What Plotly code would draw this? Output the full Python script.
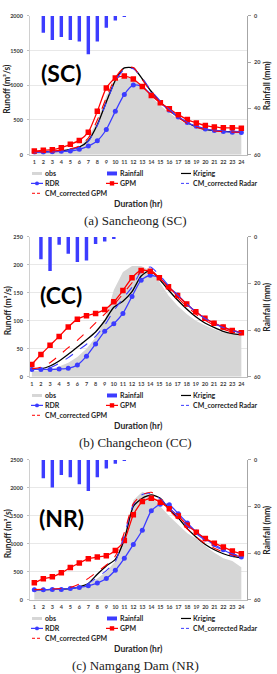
import plotly.graph_objects as go

hours = list(range(1, 25))

# ---------------- (a) Sancheong (SC) ----------------
sc_obs = [30, 35, 40, 50, 70, 110, 250, 480, 850, 1050, 1130, 1110, 970, 830, 710, 600, 505, 438, 390, 352, 333, 319, 314, 305]
sc_rain = [0, 7.3, 10.4, 9.1, 10.4, 11.1, 16.6, 11.1, 5.1, 2.0, 0.3, 0, 0, 0, 0, 0, 0, 0, 0, 0, 0, 0, 0, 0]
sc_krig = [40, 42, 45, 55, 75, 110, 200, 430, 760, 1070, 1250, 1250, 1090, 910, 760, 640, 540, 460, 400, 365, 345, 335, 330, 328]
sc_rdr = [38, 38, 43, 48, 52, 76, 124, 200, 362, 624, 867, 1005, 981, 862, 748, 638, 543, 462, 410, 371, 348, 333, 324, 319]
sc_gpm = [52, 62, 71, 100, 148, 205, 324, 624, 962, 1105, 1133, 1090, 981, 852, 748, 662, 576, 505, 457, 419, 400, 386, 386, 381]
sc_cmr = [40, 42, 45, 55, 72, 105, 190, 420, 750, 1060, 1230, 1240, 1100, 920, 770, 650, 550, 465, 405, 370, 350, 340, 335, 333]
sc_cmg = [45, 48, 52, 62, 85, 125, 240, 500, 820, 1110, 1255, 1255, 1080, 900, 750, 630, 530, 450, 395, 360, 340, 330, 325, 322]

# ---------------- (b) Changcheon (CC) ----------------
cc_obs = [10, 11, 13, 18, 25, 35, 50, 70, 100, 155, 187, 198, 198, 190, 170, 145, 127, 112, 100, 92, 85, 79, 76, 74]
cc_rain = [0, 9.6, 14.6, 3.4, 7.2, 10.8, 10.1, 3.0, 2.0, 0.9, 0, 0, 0, 0, 0, 0, 0, 0, 0, 0, 0, 0, 0, 0]
cc_krig = [13, 14, 19, 28, 40, 53, 66, 80, 100, 124, 135, 152, 180, 190, 174, 155, 137, 121, 107, 96, 88, 81, 77, 75]
cc_rdr = [13, 13, 13, 13.6, 14.8, 20.7, 36.6, 58.5, 81, 94.6, 113, 143.6, 172.6, 181.4, 177, 161, 146, 130, 116, 104.6, 95.7, 88.7, 82.7, 78.6]
cc_gpm = [21.9, 39.6, 56, 72, 88.7, 102.8, 109, 113, 120, 134, 154, 177, 190, 188.5, 177, 161, 145, 130, 116, 104.6, 95.7, 88.7, 82.7, 78.6]
cc_cmr = [13, 13, 16, 24, 34, 46, 58, 72, 92, 118, 140, 160, 188, 196, 182, 163, 146, 130, 116, 104, 95, 88, 82, 78]
cc_cmg = [14, 17, 25, 38, 52, 65, 80, 96, 112, 128, 148, 168, 188, 192, 176, 158, 141, 126, 112, 101, 92, 85, 80, 77]

# ---------------- (c) Namgang Dam (NR) ----------------
nr_obs = [170, 172, 180, 190, 210, 240, 290, 380, 500, 690, 1150, 1780, 1930, 1850, 1670, 1490, 1340, 1190, 1090, 960, 840, 740, 690, 580]
nr_rain = [0, 7.9, 11.8, 6.5, 7.5, 10.5, 13.3, 7.5, 3.7, 1.6, 0.3, 0, 0, 0, 0, 0, 0, 0, 0, 0, 0, 0, 0, 0]
nr_krig = [177, 178, 182, 188, 198, 230, 290, 455, 603, 721, 1076, 1667, 1814, 1873, 1814, 1607, 1460, 1270, 1117, 987, 892, 821, 774, 750]
nr_rdr = [177, 177, 183, 183, 201, 219, 248, 296, 378, 526, 739, 987, 1241, 1590, 1708, 1696, 1537, 1371, 1212, 1087, 987, 892, 810, 762]
nr_gpm = [301, 372, 408, 479, 573, 656, 733, 762, 786, 880, 1058, 1519, 1755, 1814, 1743, 1625, 1495, 1330, 1206, 1093, 1011, 940, 869, 822]
nr_cmr = [177, 178, 182, 190, 200, 225, 290, 400, 520, 680, 1150, 1700, 1880, 1900, 1800, 1640, 1480, 1320, 1180, 1060, 960, 880, 820, 780]
nr_cmg = [180, 185, 190, 200, 220, 280, 380, 500, 620, 780, 1200, 1720, 1880, 1920, 1790, 1600, 1430, 1260, 1120, 1000, 920, 850, 800, 760]

panels = [
    dict(tag="(SC)", caption="(a) Sancheong (SC)", obs=sc_obs, rain=sc_rain, krig=sc_krig, rdr=sc_rdr,
         gpm=sc_gpm, cmr=sc_cmr, cmg=sc_cmg, ymax=2000, dtick=500, top=13, bottom=153, xr=[0.52, 24.63]),
    dict(tag="(CC)", caption="(b) Changcheon (CC)", obs=cc_obs, rain=cc_rain, krig=cc_krig, rdr=cc_rdr,
         gpm=cc_gpm, cmr=cc_cmr, cmg=cc_cmg, ymax=250, dtick=50, top=236, bottom=377, xr=[0.8, 24.62]),
    dict(tag="(NR)", caption="(c) Namgang Dam (NR)", obs=nr_obs, rain=nr_rain, krig=nr_krig, rdr=nr_rdr,
         gpm=nr_gpm, cmr=nr_cmr, cmg=nr_cmg, ymax=2500, dtick=500, top=461, bottom=602, xr=[0.52, 24.63]),
]

W, H = 277, 674
ML, MR = 30, 30
PW = W - ML - MR


def X(px):
    return (px - ML) / PW


def Y(py):
    return 1 - py / H


BLUE = "#3c3cff"
RED = "#ff0000"
GRAY = "#d6d6d6"
FONT = "Lato"
TICKFONT = dict(family=FONT, size=5.5, color="#404040", weight="bold")

fig = go.Figure()
layout = dict(
    width=W, height=H, margin=dict(l=ML, r=MR, t=0, b=0, pad=0),
    paper_bgcolor="white", plot_bgcolor="white", showlegend=False,
    font=dict(family=FONT), annotations=[], shapes=[],
)
spline = dict(shape="spline", smoothing=0.6)

for i, p in enumerate(panels):
    xa = "x" if i == 0 else f"x{i + 1}"
    ya = "y" if i == 0 else f"y{2 * i + 1}"
    ya2 = f"y{2 * i + 2}"
    xkey = "xaxis" if i == 0 else f"xaxis{i + 1}"
    ykey = "yaxis" if i == 0 else f"yaxis{2 * i + 1}"
    y2key = f"yaxis{2 * i + 2}"

    fig.add_trace(go.Scatter(x=hours, y=p["obs"], name="obs", mode="none", fill="tozeroy",
                             fillcolor=GRAY, xaxis=xa, yaxis=ya))
    fig.add_trace(go.Scatter(x=hours, y=p["krig"], name="Kriging", mode="lines",
                             line=dict(color="black", width=1.3, **spline), xaxis=xa, yaxis=ya))
    fig.add_trace(go.Scatter(x=hours, y=p["rdr"], name="RDR", mode="lines+markers",
                             line=dict(color=BLUE, width=1.3, **spline),
                             marker=dict(symbol="circle", size=5, color=BLUE), xaxis=xa, yaxis=ya))
    fig.add_trace(go.Scatter(x=hours, y=p["gpm"], name="GPM", mode="lines+markers",
                             line=dict(color=RED, width=1.3, **spline),
                             marker=dict(symbol="square", size=5.5, color=RED), xaxis=xa, yaxis=ya))
    fig.add_trace(go.Scatter(x=hours, y=p["cmr"], name="CM_corrected Radar", mode="lines",
                             line=dict(color=BLUE, width=1.1, dash="dash", **spline), xaxis=xa, yaxis=ya))
    fig.add_trace(go.Scatter(x=hours, y=p["cmg"], name="CM_corrected GPM", mode="lines",
                             line=dict(color=RED, width=1.1, dash="dash", **spline), xaxis=xa, yaxis=ya))
    fig.add_trace(go.Bar(x=hours, y=p["rain"], name="Rainfall", marker=dict(color=BLUE, line=dict(width=0)),
                         width=0.38, xaxis=xa, yaxis=ya2))

    dom = [Y(p["bottom"]), Y(p["top"])]
    layout[xkey] = dict(domain=[0, 1], anchor=ya, range=p["xr"], tickmode="array", tickvals=hours,
                        ticktext=[str(h) for h in hours], tickfont=TICKFONT, showgrid=False,
                        showline=True, linecolor="#bfbfbf", linewidth=1, ticks="", zeroline=False,
                        ticklabelstandoff=2)
    layout[ykey] = dict(domain=dom, anchor=xa, range=[0, p["ymax"]], dtick=p["dtick"], tickfont=TICKFONT,
                        showgrid=True, gridcolor="#e8e8e8", gridwidth=0.8, showline=True,
                        linecolor="#d0d0d0", linewidth=1, ticks="outside", ticklen=2, tickcolor="#c0c0c0",
                        zeroline=False, ticklabelstandoff=3)
    layout[y2key] = dict(overlaying=ya, side="right", anchor=xa, range=[60, 0], tickvals=[0, 20, 40, 60],
                         tickfont=TICKFONT, showgrid=False, showline=True, linecolor="#a6a6a6", linewidth=1,
                         ticks="outside", ticklen=3, tickcolor="#a6a6a6", zeroline=False,
                         ticklabelstandoff=2)

    top, bot = p["top"], p["bottom"]
    anns = layout["annotations"]

    def cann(t, px, py, font, angle=0):
        anns.append(dict(text=t, x=X(px), y=Y(py), xref="paper", yref="paper", xanchor="center",
                         yanchor="middle", textangle=angle, showarrow=False, font=font))

    cann(p["tag"], 61, (top + bot) / 2 - 12, dict(family=FONT, size=23, color="black", weight="bold"))
    cann("Runoff (m³/s)", 7.5, (top + bot) / 2 + 4,
         dict(family=FONT, size=8.5, color="#262626", weight="bold"), -90)
    cann("Rainfall (mm)", 267, (top + bot) / 2,
         dict(family=FONT, size=8.5, color="#262626", weight="bold"), -90)
    cann("Duration (hr)", 138, bot + 50, dict(family=FONT, size=8.5, color="#262626", weight="bold"))
    cann(p["caption"], 135, bot + 66, dict(family="Liberation Serif", size=13, color="#222222"))

    # manual legend (three columns, compact rows)
    r1, r2, r3 = bot + 19, bot + 29, bot + 39
    c1, c2, c3 = 32, 107, 181
    lf = dict(family=FONT, size=7, color="#262626", weight="bold")
    sh = layout["shapes"]

    def txt(t, px, py):
        anns.append(dict(text=t, x=X(px), y=Y(py), xref="paper", yref="paper", xanchor="left",
                         yanchor="middle", showarrow=False, font=lf))

    def hline(px0, px1, py, color, dash="solid", width=1.2):
        sh.append(dict(type="line", xref="paper", yref="paper", x0=X(px0), x1=X(px1), y0=Y(py), y1=Y(py),
                       line=dict(color=color, width=width, dash=dash)))

    def box(px0, px1, py0, py1, color):
        sh.append(dict(type="rect", xref="paper", yref="paper", x0=X(px0), x1=X(px1), y0=Y(py0), y1=Y(py1),
                       fillcolor=color, line=dict(width=0)))

    box(c1, c1 + 10, r1 - 1.5, r1 + 1.5, GRAY)
    txt("obs", c1 + 11, r1)
    box(c2, c2 + 10, r1 - 2, r1 + 2, BLUE)
    txt("Rainfall", c2 + 11, r1)
    hline(c3, c3 + 10, r1, "black")
    txt("Kriging", c3 + 10, r1)

    hline(c1 - 1, c1 + 11, r2, BLUE)
    sh.append(dict(type="circle", xref="paper", yref="paper", x0=X(c1 + 3), x1=X(c1 + 7), y0=Y(r2 - 2),
                   y1=Y(r2 + 2), fillcolor=BLUE, line=dict(width=0)))
    txt("RDR", c1 + 11, r2)
    hline(c2 - 1, c2 + 11, r2, RED)
    box(c2 + 2.8, c2 + 7.2, r2 - 2.2, r2 + 2.2, RED)
    txt("GPM", c2 + 11, r2)
    hline(c3, c3 + 10, r2, BLUE, dash="3px,2px", width=1)
    txt("CM_corrected Radar", c3 + 10, r2)

    hline(c1, c1 + 10, r3, RED, dash="3px,2px", width=1)
    txt("CM_corrected GPM", c1 + 11, r3)

fig.update_layout(**layout)
fig.write_html("out.html")
